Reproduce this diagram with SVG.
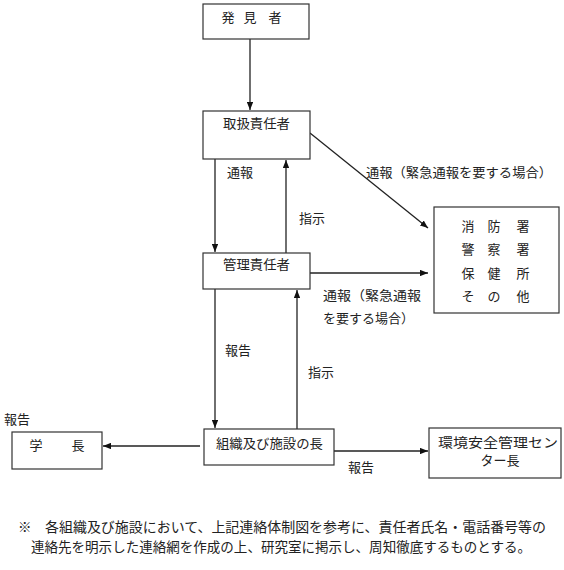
<svg xmlns="http://www.w3.org/2000/svg" width="564" height="570" viewBox="0 0 564 570">
<style>
.box{fill:#fff;stroke:#333;stroke-width:1.2}
.t{font-family:"Liberation Serif","Noto Sans CJK JP",serif;font-size:13px;fill:#222}
.fn{font-family:"Liberation Serif","Noto Sans CJK JP",serif;font-size:13.5px;fill:#222}
.c{stroke:#222;stroke-width:1.3;fill:none;marker-end:url(#ah)}
</style>
<defs>
<marker id="ah" viewBox="0 0 10 8" refX="10" refY="4" markerWidth="8" markerHeight="6.4" markerUnits="userSpaceOnUse" orient="auto">
<path d="M0,0 L10,4 L0,8 z" fill="#111"/>
</marker>
</defs>
<rect width="564" height="570" fill="#fff"/>
<g id="connectors">
<line class="c" x1="250" y1="39" x2="250" y2="110"/>
<line class="c" x1="215" y1="159" x2="215" y2="252"/>
<line class="c" x1="286" y1="253" x2="286" y2="160"/>
<line class="c" x1="310" y1="133" x2="428" y2="228"/>
<line class="c" x1="310" y1="273" x2="428" y2="273"/>
<line class="c" x1="215" y1="289" x2="215" y2="428"/>
<line class="c" x1="297" y1="429" x2="297" y2="290"/>
<line class="c" x1="200" y1="446" x2="103" y2="446"/>
<line class="c" x1="334" y1="451" x2="428" y2="451"/>
<text class="t" x="227" y="177">通報</text>
<text class="t" x="366" y="177" textLength="186" lengthAdjust="spacingAndGlyphs">通報（緊急通報を要する場合）</text>
<text class="t" x="299" y="223">指示</text>
<text class="t" x="323" y="300" textLength="98" lengthAdjust="spacingAndGlyphs">通報（緊急通報</text>
<text class="t" x="323" y="323">を要する場合）</text>
<text class="t" x="225" y="355">報告</text>
<text class="t" x="308" y="377">指示</text>
<text class="t" x="4" y="424">報告</text>
<text class="t" x="348" y="472">報告</text>
</g>
<g id="discoverer">
<rect class="box" x="203" y="4" width="106" height="35"/>
<text class="t" x="228 250 275" y="22" text-anchor="middle">発見者</text>
</g>
<g id="handler">
<rect class="box" x="203" y="111" width="107" height="48"/>
<text class="t" x="223" y="128" textLength="67" lengthAdjust="spacingAndGlyphs">取扱責任者</text>
</g>
<g id="manager">
<rect class="box" x="203" y="253" width="107" height="36"/>
<text class="t" x="223" y="269" textLength="67" lengthAdjust="spacingAndGlyphs">管理責任者</text>
</g>
<g id="authorities">
<rect class="box" x="434" y="207" width="125" height="106"/>
<text class="t" x="468 494 523" y="231" text-anchor="middle">消防署</text>
<text class="t" x="468 494 523" y="254" text-anchor="middle">警察署</text>
<text class="t" x="468 494 523" y="278" text-anchor="middle">保健所</text>
<text class="t" x="468 494 523" y="301" text-anchor="middle">その他</text>
</g>
<g id="org-head">
<rect class="box" x="204" y="429" width="130" height="36"/>
<text class="t" x="216" y="448" textLength="107" lengthAdjust="spacingAndGlyphs">組織及び施設の長</text>
</g>
<g id="president">
<rect class="box" x="12" y="432" width="90" height="37"/>
<text class="t" x="36 78" y="450" text-anchor="middle">学長</text>
</g>
<g id="env-center">
<rect class="box" x="429" y="428" width="132" height="50"/>
<text class="t" x="438" y="447" textLength="120" lengthAdjust="spacingAndGlyphs">環境安全管理セン</text>
<text class="t" x="500" y="465" text-anchor="middle">ター長</text>
</g>
<text class="fn" x="18" y="532">※</text>
<text class="fn" x="45" y="532" textLength="501" lengthAdjust="spacingAndGlyphs">各組織及び施設において、上記連絡体制図を参考に、責任者氏名・電話番号等の</text>
<text class="fn" x="31" y="552" textLength="500" lengthAdjust="spacingAndGlyphs">連絡先を明示した連絡網を作成の上、研究室に掲示し、周知徹底するものとする。</text>
</svg>
